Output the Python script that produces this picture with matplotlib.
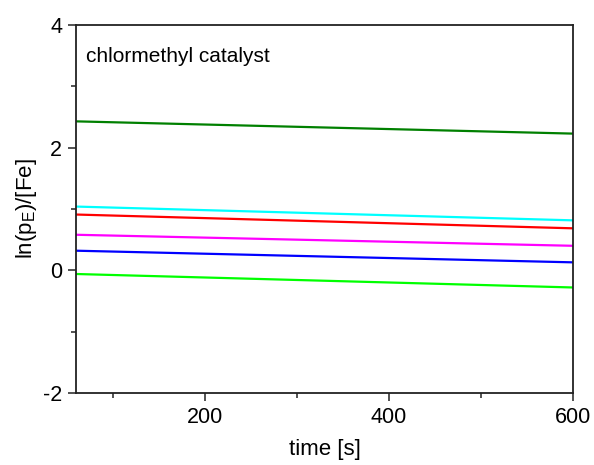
import matplotlib.pyplot as plt
from matplotlib.ticker import MultipleLocator

plt.rcParams["font.family"] = ["Liberation Sans", "DejaVu Sans"]
plt.rcParams["axes.unicode_minus"] = False

# endpoints of each fitted line
time = [60, 600]
dark_green = [2.43, 2.23]
cyan = [1.04, 0.815]
red = [0.91, 0.685]
magenta = [0.58, 0.40]
blue = [0.32, 0.13]
lime = [-0.06, -0.28]

series = [
    (dark_green, "#008000"),
    (cyan, "#00FFFF"),
    (red, "#FF0000"),
    (magenta, "#FF00FF"),
    (blue, "#0000FF"),
    (lime, "#00FF00"),
]

fig = plt.figure(figsize=(5.94, 4.65), dpi=100)
ax = fig.add_axes([0.128, 0.155, 0.837, 0.791])

for values, color in series:
    ax.plot(time, values, color=color, lw=1.6)

ax.set_xlim(60, 600)
ax.set_ylim(-2, 4)
ax.xaxis.set_major_locator(MultipleLocator(200))
ax.xaxis.set_minor_locator(MultipleLocator(100))
ax.yaxis.set_major_locator(MultipleLocator(2))
ax.yaxis.set_minor_locator(MultipleLocator(1))
ax.tick_params(which="major", direction="out", length=6, width=1.2, labelsize=15.5,
               top=False, right=False, color="#333333", pad=4)
ax.tick_params(which="minor", direction="out", length=3.5, width=1.2,
               top=False, right=False, color="#333333")
for side in ["left", "bottom", "right", "top"]:
    ax.spines[side].set_linewidth(1.3)
    ax.spines[side].set_color("#222222")

ax.set_xlabel("time [s]", fontsize=16, labelpad=8)
ax.set_ylabel("ln(p$_\\mathregular{E}$)/[Fe]", fontsize=16, labelpad=3)
ax.text(0.02, 0.915, "chlormethyl catalyst", transform=ax.transAxes,
        fontsize=15, va="center", ha="left")

fig.savefig("out.png", dpi=100)
